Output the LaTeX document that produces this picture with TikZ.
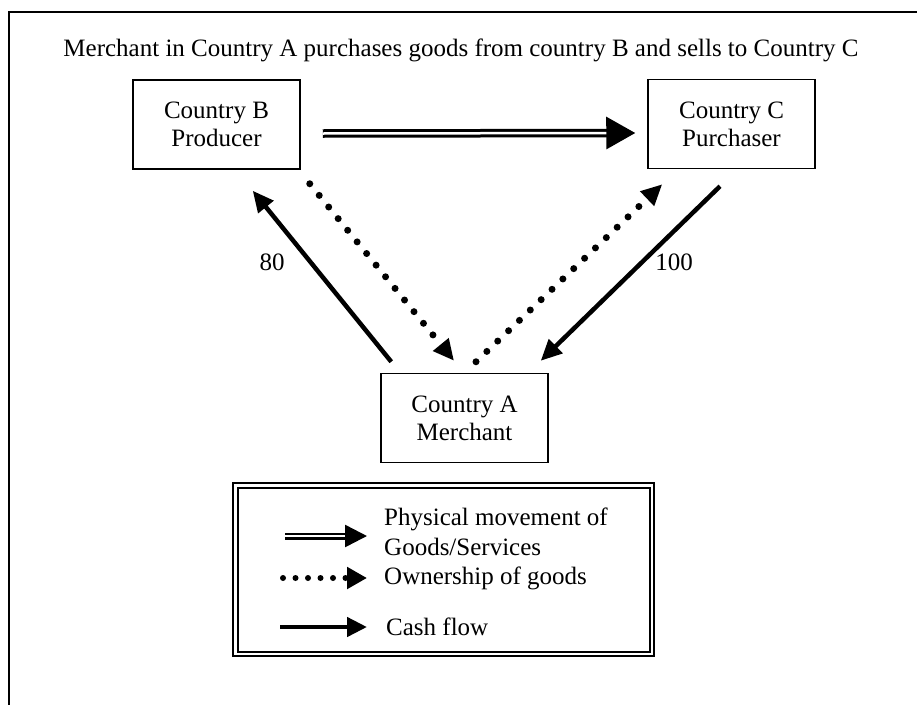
\documentclass[tikz,border=0pt]{standalone}
\usepackage{fontspec}
\setmainfont{Liberation Serif}
\usetikzlibrary{arrows.meta,calc}
\begin{document}
\begin{tikzpicture}[x=1pt,y=-1pt,
  txt/.style={font=\fontsize{25}{28}\selectfont, align=center, inner sep=0pt},
  legtxt/.style={font=\fontsize{25}{30}\selectfont, align=left, anchor=west, inner sep=0pt},
  party/.style={txt, draw, line width=1.5pt, minimum width=167pt, minimum height=89pt},
  goodsflow/.style={double, double distance=2.5pt, line width=3pt, -{Triangle[length=29pt,width=32pt]}},
  ownflow/.style={line width=7pt, line cap=round, dash pattern=on 0pt off 15pt, -{Triangle[length=21pt,width=19pt]}},
  cashflow/.style={line width=4.5pt, -{Triangle[length=21pt,width=19pt]}},
]
\useasboundingbox (0,0) rectangle (917,704);

% outer frame, running off the right and bottom edges
\draw[line width=2.5pt] (9,720) -- (9,12) -- (930,12);

\node[txt] (title) at (461,50) {Merchant in Country A purchases goods from country B and sells to Country C};

% the three parties
\node[party] (B) at (216.5,124.5) {Country B\\Producer};
\node[party] (C) at (731.5,124) {Country C\\Purchaser};
\node[party] (A) at (464.5,418) {Country A\\Merchant};

% goods move directly from B to C
\draw[goodsflow] ($(B.east)+(22,9)$) -- ($(C.west)+(-12,9)$);

% cash and ownership via the merchant
\draw[cashflow] ($(A.north west)+(11,-11)$) -- ($(B.south east)+(-48,21)$);
\draw[ownflow] ($(B.south east)+(9,14)$) -- ($(A.north)+(-10.5,-12)$);
\draw[ownflow] ($(A.north)+(11.5,-11)$) -- ($(C.south west)+(15,15)$);
\draw[cashflow] ($(C.south)+(-11.5,17)$) -- ($(A.north east)+(-8,-12)$);

\node[txt] (p80) at (272,262) {80};
\node[txt] (p100) at (674,262) {100};

% legend
\node[draw, double, double distance=2.5pt, line width=2pt, minimum width=416.5pt, minimum height=168.5pt, inner sep=0pt] (legend) at (443.5,569.5) {};

\coordinate (g1) at (285,536);
\coordinate (g2) at (367,536);
\coordinate (o1) at (283,578);
\coordinate (o2) at (367,578);
\coordinate (c1) at (280,627);
\coordinate (c2) at (367,627);
\draw[goodsflow, double distance=2pt, line width=2.5pt, -{Triangle[length=22pt,width=22pt]}] (g1) -- (g2);
\draw[ownflow, line width=6pt, dash pattern=on 0pt off 12.5pt, -{Triangle[length=20pt,width=21pt]}] (o1) -- (o2);
\draw[cashflow, -{Triangle[length=20pt,width=19pt]}] (c1) -- (c2);

\node[legtxt] (lg) at (384,532) {Physical movement of\\Goods/Services};
\node[legtxt] (lo) at (384,578) {Ownership of goods};
\node[legtxt] (lc) at (386,627) {Cash flow};
\end{tikzpicture}
\end{document}
